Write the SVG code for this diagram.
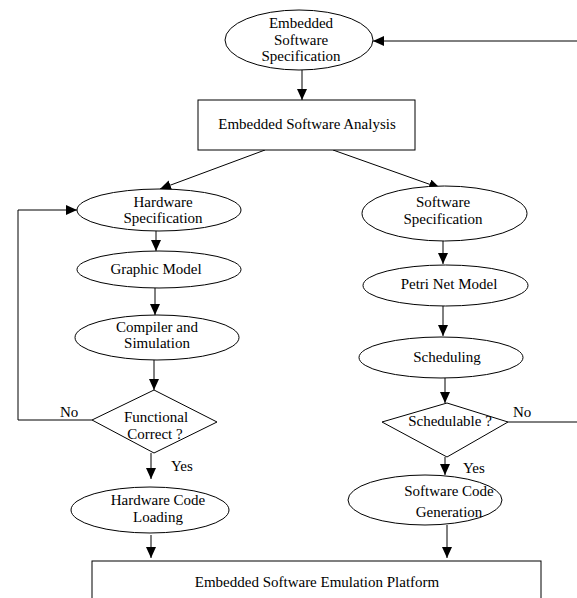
<svg xmlns="http://www.w3.org/2000/svg" width="577" height="598" viewBox="0 0 577 598">
<style>
.n{fill:#fff;stroke:#000;stroke-width:1}
.t{font-family:"Liberation Serif","Times New Roman",serif;font-size:15px;fill:#000;text-anchor:middle}
.l{font-family:"Liberation Serif","Times New Roman",serif;font-size:15px;fill:#000}
.c{fill:none;stroke:#000;stroke-width:1}
</style>
<defs>
<marker id="ah" markerUnits="userSpaceOnUse" markerWidth="11" markerHeight="10" refX="11" refY="5" orient="auto">
<path d="M0,0 L11,5 L0,10 z" fill="#000"/>
</marker>
</defs>
<rect width="577" height="598" fill="#fff"/>
<g id="connectors">
<line class="c" x1="577" y1="41" x2="373" y2="41" marker-end="url(#ah)"/>
<line class="c" x1="302" y1="70" x2="302" y2="100" marker-end="url(#ah)"/>
<line class="c" x1="265" y1="150" x2="160" y2="189" marker-end="url(#ah)"/>
<line class="c" x1="333" y1="150" x2="440" y2="188" marker-end="url(#ah)"/>
<polyline class="c" points="92,420 18,420 18,210 77,210" marker-end="url(#ah)"/>
<line class="c" x1="156" y1="231" x2="156" y2="251" marker-end="url(#ah)"/>
<line class="c" x1="155" y1="288" x2="155" y2="315" marker-end="url(#ah)"/>
<line class="c" x1="154" y1="360" x2="154" y2="390" marker-end="url(#ah)"/>
<line class="c" x1="151" y1="453" x2="151" y2="479" marker-end="url(#ah)"/>
<line class="c" x1="151" y1="535" x2="151" y2="558" marker-end="url(#ah)"/>
<line class="c" x1="443" y1="241" x2="443" y2="264" marker-end="url(#ah)"/>
<line class="c" x1="443" y1="306" x2="443" y2="336" marker-end="url(#ah)"/>
<line class="c" x1="445" y1="378" x2="445" y2="403" marker-end="url(#ah)"/>
<line class="c" x1="508" y1="422" x2="577" y2="422"/>
<line class="c" x1="445" y1="457" x2="445" y2="475" marker-end="url(#ah)"/>
<line class="c" x1="447" y1="525" x2="447" y2="558" marker-end="url(#ah)"/>
<text class="l" x="60" y="417">No</text>
<text class="l" x="171" y="471">Yes</text>
<text class="l" x="513" y="417">No</text>
<text class="l" x="463" y="473">Yes</text>
</g>
<g id="ess">
<ellipse class="n" cx="299" cy="40" rx="74" ry="30"/>
<text class="t" x="301" y="28">Embedded</text>
<text class="t" x="301" y="45">Software</text>
<text class="t" x="301" y="61">Specification</text>
</g>
<g id="esa">
<rect class="n" x="198" y="100" width="217" height="50"/>
<text class="t" x="307" y="129">Embedded Software Analysis</text>
</g>
<g id="hws">
<ellipse class="n" cx="159" cy="210" rx="82" ry="21"/>
<text class="t" x="163" y="207">Hardware</text>
<text class="t" x="163" y="223">Specification</text>
</g>
<g id="gm">
<ellipse class="n" cx="159" cy="269.5" rx="82" ry="18.5"/>
<text class="t" x="156" y="274">Graphic Model</text>
</g>
<g id="cs">
<ellipse class="n" cx="157" cy="337.5" rx="82" ry="22.5"/>
<text class="t" x="157" y="332">Compiler and</text>
<text class="t" x="157" y="348">Simulation</text>
</g>
<g id="fc">
<polygon class="n" points="92,420 154,390 217,422 154,453"/>
<text class="t" x="156" y="422">Functional</text>
<text class="t" x="155" y="439">Correct ?</text>
</g>
<g id="hcl">
<ellipse class="n" cx="150" cy="510" rx="79" ry="23"/>
<text class="t" x="158" y="505">Hardware Code</text>
<text class="t" x="158" y="522">Loading</text>
</g>
<g id="sws">
<ellipse class="n" cx="444.5" cy="213.5" rx="82.5" ry="27.5"/>
<text class="t" x="443" y="207">Software</text>
<text class="t" x="443" y="224">Specification</text>
</g>
<g id="pnm">
<ellipse class="n" cx="445.5" cy="285.5" rx="82.5" ry="20.5"/>
<text class="t" x="449" y="289">Petri Net Model</text>
</g>
<g id="sch">
<ellipse class="n" cx="441" cy="357.5" rx="82" ry="20.5"/>
<text class="t" x="447" y="362">Scheduling</text>
</g>
<g id="sd">
<polygon class="n" points="382,422 447,403 508,422 447,457"/>
<text class="t" x="450" y="426">Schedulable ?</text>
</g>
<g id="scg">
<ellipse class="n" cx="425" cy="500" rx="77" ry="25"/>
<text class="t" x="449" y="496">Software Code</text>
<text class="t" x="449" y="517">Generation</text>
</g>
<g id="esep">
<rect class="n" x="92" y="561" width="449" height="40"/>
<text class="t" x="317" y="587">Embedded Software Emulation Platform</text>
</g>
</svg>
